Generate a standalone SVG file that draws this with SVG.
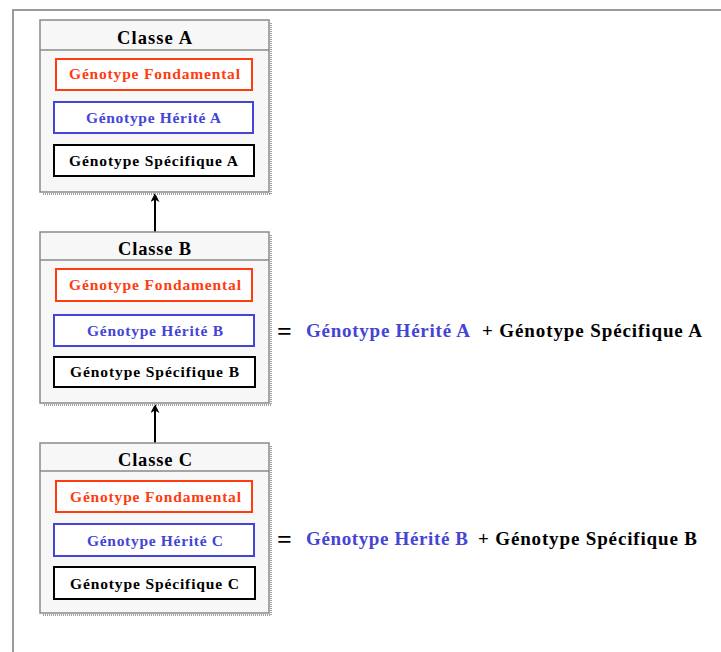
<svg xmlns="http://www.w3.org/2000/svg" width="721" height="652" viewBox="0 0 721 652">
  <defs>
    <style>
      .frame { fill: none; stroke: #9a9a9a; stroke-width: 2; }
      .cls { fill: #f7f7f7; stroke: #8a8a8a; stroke-width: 1.5; }
      .shadow { fill: none; stroke: #a0a0a0; stroke-width: 2; stroke-dasharray: 1 1; }
      .hdr { stroke: #8a8a8a; stroke-width: 1.5; }
      .red { fill: #ffffff; stroke: #ff3b0f; stroke-width: 2; }
      .blue { fill: #ffffff; stroke: #4444d6; stroke-width: 2; }
      .black { fill: #ffffff; stroke: #000000; stroke-width: 2; }
      text { font-family: "Liberation Serif", "Times New Roman", serif; font-weight: bold; }
      .title { font-size: 18.5px; fill: #000; }
      .item { font-size: 15.5px; }
      .tr { fill: #ff3b0f; }
      .tb { fill: #4444d6; }
      .tk { fill: #000; }
      .eq { font-size: 19px; }
      .sign { font-size: 26px; }
      .conn { stroke: #000; stroke-width: 2; fill: none; }
    </style>
    <marker id="arrow" viewBox="0 0 10 10" refX="9" refY="5" markerWidth="9" markerHeight="9" markerUnits="userSpaceOnUse" orient="auto">
      <path d="M0,0 L10,5 L0,10 L3,5 Z" fill="#000"/>
    </marker>
  </defs>

  <!-- outer frame -->
  <path class="frame" d="M13,652 L13,10 L721,10"/>

  <!-- inheritance connectors -->
  <g id="connectors">
    <line class="conn" x1="155" y1="232" x2="155" y2="194" marker-end="url(#arrow)"/>
    <line class="conn" x1="155" y1="443" x2="155" y2="405" marker-end="url(#arrow)"/>
  </g>

  <!-- Classe A -->
  <g id="classe-a">
    <path class="shadow" d="M271,23 L271,194 L43,194"/>
    <rect class="cls" x="40" y="20" width="229" height="172"/>
    <line class="hdr" x1="40" y1="50" x2="269" y2="50"/>
    <text class="title" x="117" y="44" textLength="75" lengthAdjust="spacing">Classe A</text>
    <rect class="red" x="56" y="59" width="196" height="31"/>
    <text class="item tr" x="69" y="79" textLength="171" lengthAdjust="spacing">Génotype Fondamental</text>
    <rect class="blue" x="54" y="102" width="199" height="31"/>
    <text class="item tb" x="86" y="123" textLength="135" lengthAdjust="spacing">Génotype Hérité A</text>
    <rect class="black" x="54" y="145" width="200" height="31"/>
    <text class="item tk" x="69" y="166" textLength="169" lengthAdjust="spacing">Génotype Spécifique A</text>
  </g>

  <!-- Classe B -->
  <g id="classe-b">
    <path class="shadow" d="M271,235 L271,405 L43,405"/>
    <rect class="cls" x="40" y="232" width="229" height="171"/>
    <line class="hdr" x1="40" y1="260" x2="269" y2="260"/>
    <text class="title" x="118" y="255" textLength="73" lengthAdjust="spacing">Classe B</text>
    <rect class="red" x="56" y="269" width="196" height="32"/>
    <text class="item tr" x="69" y="290" textLength="172" lengthAdjust="spacing">Génotype Fondamental</text>
    <rect class="blue" x="54" y="315" width="200" height="31"/>
    <text class="item tb" x="87" y="336" textLength="136" lengthAdjust="spacing">Génotype Hérité B</text>
    <rect class="black" x="54" y="357" width="201" height="30"/>
    <text class="item tk" x="70" y="377" textLength="169" lengthAdjust="spacing">Génotype Spécifique B</text>
  </g>

  <!-- Classe C -->
  <g id="classe-c">
    <path class="shadow" d="M271,446 L271,615 L43,615"/>
    <rect class="cls" x="40" y="443" width="229" height="170"/>
    <line class="hdr" x1="40" y1="471" x2="269" y2="471"/>
    <text class="title" x="118" y="466" textLength="74" lengthAdjust="spacing">Classe C</text>
    <rect class="red" x="56" y="481" width="196" height="31"/>
    <text class="item tr" x="70" y="502" textLength="171" lengthAdjust="spacing">Génotype Fondamental</text>
    <rect class="blue" x="54" y="524" width="200" height="32"/>
    <text class="item tb" x="87" y="546" textLength="136" lengthAdjust="spacing">Génotype Hérité C</text>
    <rect class="black" x="54" y="567" width="201" height="32"/>
    <text class="item tk" x="70" y="589" textLength="169" lengthAdjust="spacing">Génotype Spécifique C</text>
  </g>

  <!-- genotype composition for B -->
  <g id="formule-b">
    <text class="sign tk" x="277" y="340">=</text>
    <text class="eq tb" x="306" y="337" textLength="164" lengthAdjust="spacing">Génotype Hérité A</text>
    <text class="eq tk" x="482" y="337" textLength="220" lengthAdjust="spacing">+ Génotype Spécifique A</text>
  </g>

  <!-- genotype composition for C -->
  <g id="formule-c">
    <text class="sign tk" x="277" y="548">=</text>
    <text class="eq tb" x="306" y="545" textLength="162" lengthAdjust="spacing">Génotype Hérité B</text>
    <text class="eq tk" x="478" y="545" textLength="219" lengthAdjust="spacing">+ Génotype Spécifique B</text>
  </g>
</svg>
